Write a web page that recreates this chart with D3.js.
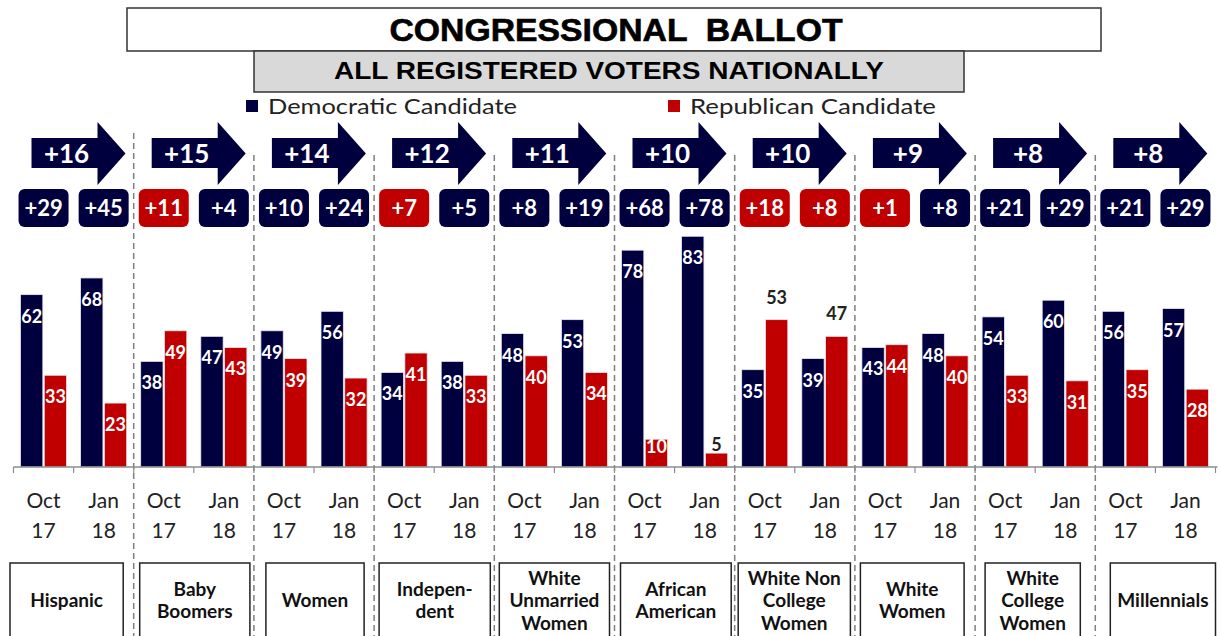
<!DOCTYPE html>
<html>
<head>
<meta charset="utf-8">
<script src="https://cdn.jsdelivr.net/npm/d3@7/dist/d3.min.js"></script>
<style>
  html, body { margin: 0; padding: 0; background: #fff; }
  svg { display: block; }
</style>
</head>
<body>
<script>
// ---------- DATA ----------
const categories = ["Hispanic", "Baby Boomers", "Women", "Independent", "White Unmarried Women",
  "African American", "White Non College Women", "White Women", "White College Women", "Millennials"];
const categoryLines = [["Hispanic"], ["Baby", "Boomers"], ["Women"], ["Indepen-", "dent"],
  ["White", "Unmarried", "Women"], ["African", "American"], ["White Non", "College", "Women"],
  ["White", "Women"], ["White", "College", "Women"], ["Millennials"]];
const periods = ["Oct 17", "Jan 18"];
const periodLines = [["Oct", "17"], ["Jan", "18"]];
const seriesNames = ["Democratic Candidate", "Republican Candidate"];
const demOct = [62, 38, 49, 34, 48, 78, 35, 43, 54, 56];
const demJan = [68, 47, 56, 38, 53, 83, 39, 48, 60, 57];
const repOct = [33, 49, 39, 41, 40, 10, 53, 44, 33, 35];
const repJan = [23, 43, 32, 33, 34, 5, 47, 40, 31, 28];
// signed margins (positive = Democratic lead, negative = Republican lead)
const marginOct = [29, -11, 10, -7, 8, 68, -18, -1, 21, 21];
const marginJan = [45, 4, 24, 5, 19, 78, -8, 8, 29, 29];
const shift = [16, 15, 14, 12, 11, 10, 10, 9, 8, 8];
const titleText = "CONGRESSIONAL  BALLOT";
const subtitleText = "ALL REGISTERED VOTERS NATIONALLY";

// ---------- STYLE / LAYOUT ----------
const W = 1221, H = 636;
const NAVY = "#00003f", RED = "#c00000";
const boxInsets = [[-3.5, -10.5], [6, -4], [12, -10], [5, -4], [5, -5], [6, -3.5], [3.5, -4.5], [5.5, -11], [10, -15], [15, 0]];
const outsideLabels = { "6-1-rep": true, "6-0-rep": true }; // White Non College Women rep labels above bars

const svg = d3.select("body").append("svg").attr("width", W).attr("height", H);

// scales
const x0 = d3.scaleBand().domain(categories).range([13.5, 1215.5]).padding(0);
const x1 = d3.scaleBand().domain(periods).range([0, x0.bandwidth()]).padding(0);
const x2 = d3.scaleBand().domain(["dem", "rep"]).range([7, x1.bandwidth() - 7]).paddingInner(0.06);
const y = d3.scaleLinear().domain([0, 100]).range([467, 189]);

// ---------- TITLE ----------
svg.append("rect").attr("x", 127).attr("y", 8).attr("width", 974).attr("height", 43)
  .attr("fill", "#fff").attr("stroke", "#333").attr("stroke-width", 1.5);
svg.append("text").attr("x", 616).attr("y", 41).attr("text-anchor", "middle")
  .style("white-space", "pre").attr("xml:space", "preserve")
  .attr("font-family", "Liberation Sans, Arial, sans-serif").attr("font-weight", "bold")
  .attr("font-size", 31).attr("fill", "#000").attr("stroke", "#000").attr("stroke-width", 0.6)
  .attr("textLength", 453).attr("lengthAdjust", "spacingAndGlyphs")
  .text(titleText);
svg.append("rect").attr("x", 254).attr("y", 51).attr("width", 710).attr("height", 41)
  .attr("fill", "#d9d9d9").attr("stroke", "#333").attr("stroke-width", 1.5);
svg.append("text").attr("x", 609).attr("y", 79).attr("text-anchor", "middle")
  .attr("font-family", "Liberation Sans, Arial, sans-serif").attr("font-weight", "bold")
  .attr("font-size", 23).attr("fill", "#000")
  .attr("textLength", 550).attr("lengthAdjust", "spacingAndGlyphs")
  .text(subtitleText);

// ---------- LEGEND ----------
const legendX = [246, 668];
const legendTL = [249, 246];
seriesNames.forEach((s, i) => {
  svg.append("rect").attr("x", legendX[i]).attr("y", 100).attr("width", 12).attr("height", 12)
    .attr("fill", i === 0 ? NAVY : RED);
  svg.append("text").attr("x", legendX[i] + 22).attr("y", 114)
    .attr("font-family", "Lato, Carlito, sans-serif").attr("font-size", 22).attr("fill", "#222")
    .attr("textLength", legendTL[i]).attr("lengthAdjust", "spacingAndGlyphs")
    .text(s);
});

// ---------- DIVIDERS ----------
categories.slice(1).forEach((c, i) => {
  const xx = x0(c);
  svg.append("line").attr("x1", xx).attr("x2", xx).attr("y1", i === 0 ? 133 : 155).attr("y2", H)
    .attr("stroke", "#7f7f7f").attr("stroke-width", 1.5).attr("stroke-dasharray", "6,4");
});

// ---------- ARROWS ----------
categories.forEach((c, i) => {
  const gx = x0(c) + 18;
  const bodyW = 66, headW = 28;
  const pts = [[gx, 138], [gx + bodyW, 138], [gx + bodyW, 122], [gx + bodyW + headW, 153.5],
    [gx + bodyW, 185], [gx + bodyW, 168], [gx, 168]];
  svg.append("polygon").attr("points", pts.map(p => p.join(",")).join(" ")).attr("fill", NAVY);
  svg.append("text").attr("x", gx + bodyW / 2 + 2).attr("y", 163).attr("text-anchor", "middle")
    .attr("font-family", "Lato, Carlito, sans-serif").attr("font-weight", "bold")
    .attr("font-size", 26).attr("fill", "#fff").text("+" + shift[i]);
});

// ---------- BADGES ----------
categories.forEach((c, i) => {
  [marginOct[i], marginJan[i]].forEach((m, j) => {
    const cx = x0(c) + x1(periods[j]) + x1.bandwidth() / 2;
    svg.append("rect").attr("x", cx - 25).attr("y", 189).attr("width", 50).attr("height", 38)
      .attr("rx", 6).attr("fill", m >= 0 ? NAVY : RED);
    svg.append("text").attr("x", cx).attr("y", 216).attr("text-anchor", "middle")
      .attr("font-family", "Lato, Carlito, sans-serif").attr("font-weight", "bold")
      .attr("font-size", 22).attr("fill", "#fff").text("+" + Math.abs(m));
  });
});

// ---------- BARS ----------
const rows = [];
categories.forEach((c, i) => {
  rows.push({ c, i, p: 0, s: "dem", v: demOct[i] });
  rows.push({ c, i, p: 0, s: "rep", v: repOct[i] });
  rows.push({ c, i, p: 1, s: "dem", v: demJan[i] });
  rows.push({ c, i, p: 1, s: "rep", v: repJan[i] });
});
const bx = d => x0(d.c) + x1(periods[d.p]) + x2(d.s);
svg.append("g").selectAll("rect").data(rows).join("rect")
  .attr("x", bx).attr("y", d => y(d.v)).attr("width", x2.bandwidth())
  .attr("height", d => y(0) - y(d.v))
  .attr("fill", d => d.s === "dem" ? NAVY : RED)
  .attr("stroke", "#e8e8f0").attr("stroke-width", 0.8);

svg.append("g").selectAll("text").data(rows).join("text")
  .attr("x", d => bx(d) + x2.bandwidth() / 2)
  .attr("y", d => {
    const key = `${d.i}-${d.p}-${d.s}`;
    const h = y(0) - y(d.v);
    if (outsideLabels[key]) return y(d.v) - 16;
    if (h < 20) return y(d.v) - 2;
    if (h < 45) return y(d.v) + 14;
    return y(d.v) + 28;
  })
  .attr("text-anchor", "middle")
  .attr("font-family", "Lato, Carlito, sans-serif").attr("font-weight", "bold").attr("font-size", 18)
  .attr("fill", d => {
    const key = `${d.i}-${d.p}-${d.s}`;
    const h = y(0) - y(d.v);
    return (outsideLabels[key] || h < 20) ? "#222" : "#fff";
  })
  .text(d => d.v);

// ---------- AXIS ----------
const ticks = [];
categories.forEach(c => periods.forEach(p => ticks.push(x0(c) + x1(p))));
ticks.push(x0.range()[1]);
svg.append("line").attr("x1", x0.range()[0]).attr("x2", x0.range()[1] + 2).attr("y1", y(0)).attr("y2", y(0))
  .attr("stroke", "#8c8c8c").attr("stroke-width", 1.5);
svg.append("g").selectAll("line").data(ticks).join("line")
  .attr("x1", d => d).attr("x2", d => d).attr("y1", y(0)).attr("y2", y(0) + 6)
  .attr("stroke", "#8c8c8c").attr("stroke-width", 1.2);

categories.forEach(c => {
  periods.forEach((p, j) => {
    const cx = x0(c) + x1(p) + x1.bandwidth() / 2;
    periodLines[j].forEach((ln, k) => {
      svg.append("text").attr("x", cx).attr("y", 508 + k * 30).attr("text-anchor", "middle")
        .attr("font-family", "Lato, Carlito, sans-serif").attr("font-size", 21).attr("fill", "#222")
        .text(ln);
    });
  });
});

// ---------- CATEGORY BOXES ----------
categories.forEach((c, i) => {
  const left = x0(c) + boxInsets[i][0];
  const right = x0(c) + x0.bandwidth() + boxInsets[i][1];
  svg.append("rect").attr("x", left).attr("y", 563).attr("width", right - left).attr("height", 90)
    .attr("fill", "#fff").attr("stroke", "#222").attr("stroke-width", 1.5);
  const lines = categoryLines[i];
  const lh = 22.5;
  const startY = 600 - (lines.length - 1) * lh / 2 + 7;
  lines.forEach((ln, k) => {
    svg.append("text").attr("x", (left + right) / 2).attr("y", startY + k * lh)
      .attr("text-anchor", "middle")
      .attr("font-family", "Lato, Carlito, sans-serif").attr("font-weight", "bold")
      .attr("font-size", 19).attr("fill", "#111").text(ln);
  });
});
</script>
</body>
</html>
